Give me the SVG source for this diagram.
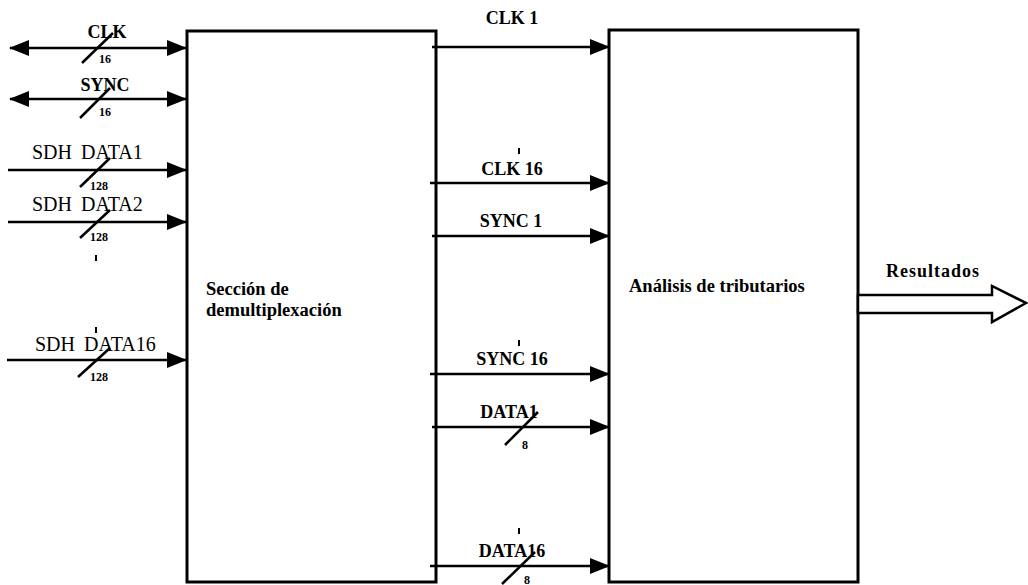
<svg xmlns="http://www.w3.org/2000/svg" width="1028" height="585" viewBox="0 0 1028 585">
<defs>
<marker id="ah" markerUnits="userSpaceOnUse" markerWidth="20" markerHeight="16" refX="19" refY="8" orient="auto-start-reverse" viewBox="0 0 20 16">
<path d="M0,0 L20,8 L0,16 Z" fill="#000"/>
</marker>
</defs>
<style>
.box{fill:#fff;stroke:#000;stroke-width:3}
.ln{stroke:#000;stroke-width:2.5;fill:none}
.sl{stroke:#000;stroke-width:2.5}
.tk{stroke:#000;stroke-width:2}
.lb{font-family:"Liberation Serif",serif;font-weight:bold;font-size:18px;fill:#000}
.bx{font-family:"Liberation Serif",serif;font-weight:bold;font-size:18.5px;fill:#000}
.sd{font-family:"Liberation Serif",serif;font-size:20px;fill:#000;word-spacing:4px}
.sm{font-family:"Liberation Serif",serif;font-weight:bold;font-size:12px;fill:#000}
</style>
<rect width="1028" height="585" fill="#fff"/>
<g id="demux">
<rect class="box" x="187" y="31" width="249" height="551"/>
<text class="bx" x="206" y="295">Sección de</text>
<text class="bx" x="206" y="316">demultiplexación</text>
</g>
<g id="analisis">
<rect class="box" x="609" y="30" width="249" height="552"/>
<text class="bx" x="629" y="292">Análisis de tributarios</text>
</g>
<g id="connectors">
<line class="ln" x1="10" y1="48" x2="186" y2="48" marker-start="url(#ah)" marker-end="url(#ah)"/>
<text class="lb" x="107" y="38" text-anchor="middle">CLK</text>
<line class="sl" x1="82" y1="63" x2="113" y2="33"/>
<text class="sm" x="99" y="63">16</text>

<line class="ln" x1="10" y1="99" x2="186" y2="99" marker-start="url(#ah)" marker-end="url(#ah)"/>
<text class="lb" x="105" y="91" text-anchor="middle">SYNC</text>
<line class="sl" x1="80" y1="118" x2="110" y2="88"/>
<text class="sm" x="99" y="116">16</text>

<line class="ln" x1="8" y1="170" x2="186" y2="170" marker-end="url(#ah)"/>
<text class="sd" x="32" y="159">SDH DATA1</text>
<line class="sl" x1="80" y1="187" x2="110" y2="158"/>
<text class="sm" x="90" y="190">128</text>

<line class="ln" x1="8" y1="222" x2="186" y2="222" marker-end="url(#ah)"/>
<text class="sd" x="32" y="211">SDH DATA2</text>
<line class="sl" x1="80" y1="238" x2="110" y2="210"/>
<text class="sm" x="90" y="241">128</text>

<line class="tk" x1="96" y1="255" x2="96" y2="261"/>
<line class="tk" x1="96" y1="327" x2="96" y2="333"/>

<line class="ln" x1="7" y1="360" x2="186" y2="360" marker-end="url(#ah)"/>
<text class="sd" x="35" y="351">SDH DATA16</text>
<line class="sl" x1="78" y1="377" x2="110" y2="348"/>
<text class="sm" x="90" y="381">128</text>

<line class="ln" x1="432" y1="47" x2="609" y2="47" marker-end="url(#ah)"/>
<text class="lb" x="512" y="24" text-anchor="middle">CLK 1</text>

<line class="tk" x1="519" y1="148" x2="519" y2="154"/>
<line class="ln" x1="430" y1="183" x2="609" y2="183" marker-end="url(#ah)"/>
<text class="lb" x="512" y="175" text-anchor="middle">CLK 16</text>

<line class="ln" x1="432" y1="236" x2="609" y2="236" marker-end="url(#ah)"/>
<text class="lb" x="511" y="227" text-anchor="middle">SYNC 1</text>

<line class="tk" x1="519" y1="340" x2="519" y2="346"/>
<line class="ln" x1="430" y1="374" x2="609" y2="374" marker-end="url(#ah)"/>
<text class="lb" x="512" y="365" text-anchor="middle">SYNC 16</text>

<line class="ln" x1="432" y1="427" x2="609" y2="427" marker-end="url(#ah)"/>
<text class="lb" x="509" y="418" text-anchor="middle">DATA1</text>
<line class="sl" x1="505" y1="445" x2="538" y2="412"/>
<text class="sm" x="522" y="449">8</text>

<line class="tk" x1="519" y1="528" x2="519" y2="534"/>
<line class="ln" x1="430" y1="566" x2="609" y2="566" marker-end="url(#ah)"/>
<text class="lb" x="512" y="557" text-anchor="middle">DATA16</text>
<line class="sl" x1="502" y1="584" x2="535" y2="552"/>
<text class="sm" x="524" y="584">8</text>

<polygon points="858,295 992,295 992,286 1026,303 992,322 992,313 858,313" fill="#fff" stroke="#000" stroke-width="2.5" stroke-linejoin="miter"/>
<text class="lb" x="933" y="277" text-anchor="middle" letter-spacing="1">Resultados</text>
</g>
</svg>
